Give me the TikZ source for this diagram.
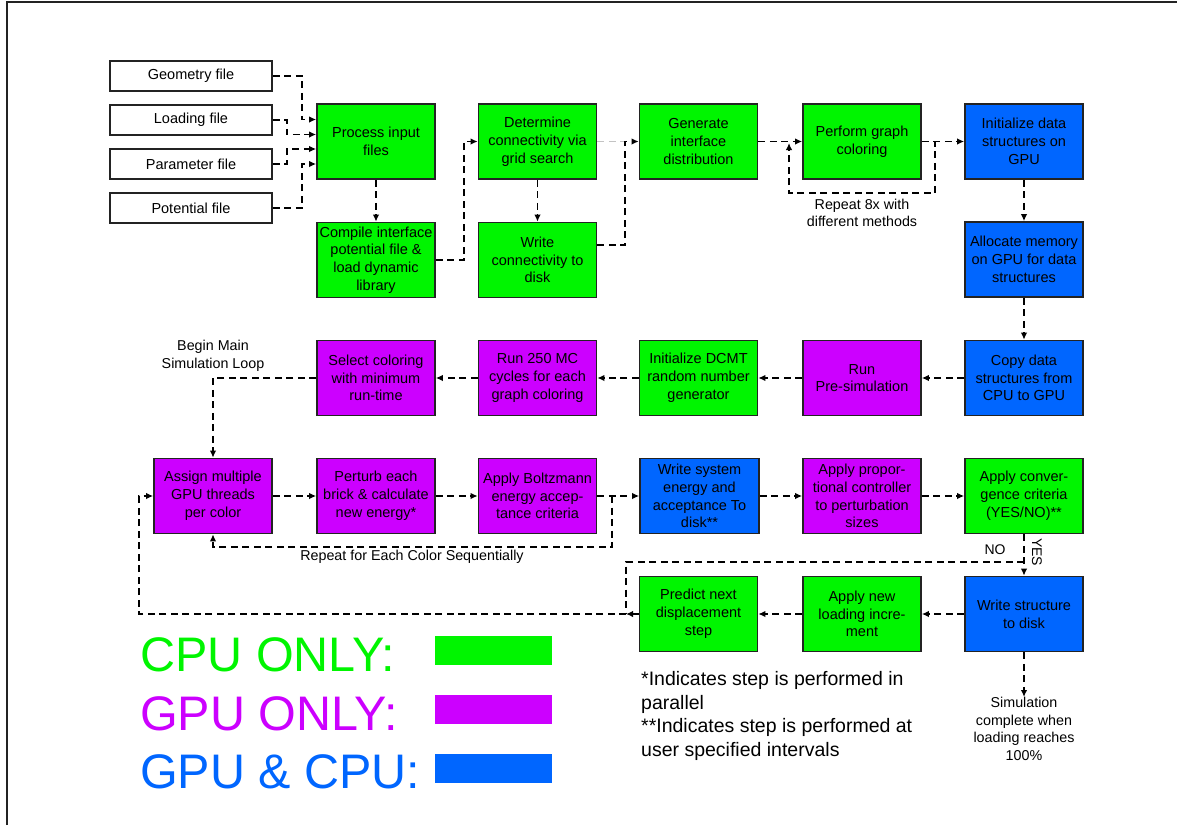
\documentclass[tikz,border=0pt]{standalone}
\usepackage{fontspec}
\setmainfont{Liberation Sans}
\usetikzlibrary{arrows.meta}
\definecolor{cgreen}{RGB}{0,245,0}
\definecolor{cpurple}{RGB}{204,0,255}
\definecolor{cblue}{RGB}{0,102,255}
\definecolor{edge}{RGB}{35,35,35}
\definecolor{lgray}{RGB}{195,195,195}
\tikzset{
  box/.style={draw=edge, line width=1.7pt, minimum width=118pt, minimum height=75pt, inner sep=1pt, align=center, font=\fontsize{14.5}{17.8}\selectfont},
  gbox/.style={box, fill=cgreen},
  pbox/.style={box, fill=cpurple},
  bbox/.style={box, fill=cblue},
  filebox/.style={draw=edge, line width=1.7pt, fill=white, minimum width=162pt, minimum height=30pt, inner sep=1pt, font=\fontsize{14.5}{17.8}\selectfont},
  dl/.style={draw=black, line width=1.6pt, dash pattern=on 7pt off 4.5pt},
  arr/.style={dl, -{Latex[length=7pt,width=6.5pt]}},
  lbl/.style={font=\fontsize{14.3}{17.7}\selectfont, align=center, inner sep=0pt},
  legend/.style={font=\fontsize{48.5}{50}\selectfont, inner sep=0pt, anchor=base west}
}
\begin{document}
\begin{tikzpicture}[x=1pt,y=-1pt]
\useasboundingbox (0,0) rectangle (1177,825);
% frame
\draw[edge, line width=1.2pt] (7,825) -- (7,2) -- (1177,2);
% file boxes
\node[filebox] (geo) at (191,76) {Geometry file};
\node[filebox] (load) at (191,120) {Loading file};
\node[filebox] (par) at (191,164) {Parameter file};
\node[filebox] (pot) at (191,208) {Potential file};
% row 1
\node[gbox] (proc) at (376,141.5) {Process input\\files};
\node[gbox] (comp) at (376,260) {Compile interface\\potential file \&\\load dynamic\\library};
\node[gbox] (det) at (537.5,141.5) {Determine\\connectivity via\\grid search};
\node[gbox] (wcon) at (537.5,260) {Write\\connectivity to\\disk};
\node[gbox] (gen) at (698.5,141.5) {Generate\\interface\\distribution};
\node[gbox] (pgc) at (862,141.5) {Perform graph\\coloring};
\node[bbox] (init) at (1024,141.5) {Initialize data\\structures on\\GPU};
\node[bbox] (alloc) at (1024,259.5) {Allocate memory\\on GPU for data\\structures};
% row 2
\node[bbox] (copy) at (1024,378) {Copy data\\structures from\\CPU to GPU};
\node[pbox] (pre) at (862,378) {Run\\Pre-simulation};
\node[gbox] (dcmt) at (698.5,378) {Initialize DCMT\\random number\\generator};
\node[pbox] (run) at (537.5,378) {Run 250 MC\\cycles for each\\graph coloring};
\node[pbox] (sel) at (376,378) {Select coloring\\with minimum\\run-time};
% row 3
\node[pbox] (asg) at (213,496) {Assign multiple\\GPU threads\\per color};
\node[pbox] (pert) at (376,496) {Perturb each\\brick \& calculate\\new energy*};
\node[pbox] (boltz) at (537.5,496) {Apply Boltzmann\\energy accep-\\tance criteria};
\node[bbox, minimum width=119pt] (wse) at (699.5,496) {Write system\\energy and\\acceptance To\\disk**};
\node[pbox] (prop) at (862,496) {Apply propor-\\tional controller\\to perturbation\\sizes};
\node[gbox] (conv) at (1024,496) {Apply conver-\\gence criteria\\(YES/NO)**};
% row 4
\node[bbox] (wst) at (1024,614) {Write structure\\to disk};
\node[gbox] (newl) at (862,614) {Apply new\\loading incre-\\ment};
\node[gbox] (pred) at (698.5,614) {Predict next\\displacement\\step};
% labels
\node[lbl] (rep8) at (862,213) {Repeat 8x with\\different methods};
\node[lbl] (bml) at (213,356) {Begin Main\\Simulation Loop};
\node[lbl] (rec) at (412,557) {Repeat for Each Color Sequentially};
\node[lbl, font=\fontsize{14}{16}\selectfont] (no) at (995,550) {NO};
\node[lbl, font=\fontsize{14}{16}\selectfont, rotate=-90] (yes) at (1037,552) {YES};
\node[lbl, anchor=north] (simc) at (1024,697) {Simulation\\complete when\\loading reaches\\100\%};
\node[anchor=north west, align=left, inner sep=0pt, font=\fontsize{19.5}{23.5}\selectfont] (notes) at (641,671.5) {*Indicates step is performed in\\parallel\\**Indicates step is performed at\\user specified intervals};
% legend
\node[legend, text=cgreen] (lcpu) at (140,671) {CPU ONLY:};
\node[legend, text=cpurple] (lgpu) at (140,730) {GPU ONLY:};
\node[legend, text=cblue] (lboth) at (140,788) {GPU \& CPU:};
\node[fill=cgreen, minimum width=117pt, minimum height=29pt, inner sep=0pt] (rcpu) at (493.5,650.5) {};
\node[fill=cpurple, minimum width=117pt, minimum height=29pt, inner sep=0pt] (rgpu) at (493.5,709.5) {};
\node[fill=cblue, minimum width=117pt, minimum height=29pt, inner sep=0pt] (rboth) at (493.5,768.5) {};
% coordinates
\coordinate (j1) at (625,141.5);
\coordinate (lb) at (612,496);
\coordinate (nb) at (1024,562);
\coordinate (m) at (626,614);
% input connectors
\draw[arr] (geo.east) -- (302,76) |- ([yshift=22pt]proc.west);
\draw[arr] (load.east) -- (287,120) |- ([yshift=7pt]proc.west);
\draw[arr] (par.east) -- (287,164) |- ([yshift=-7.5pt]proc.west);
\draw[arr] (pot.east) -- (302,208) |- ([yshift=-22.5pt]proc.west);
\draw[arr] (proc.south) -- (comp.north);
\draw[arr] (comp.east) -- (464,260) |- (det.west);
\draw[arr] (det.south) -- (wcon.north);
\draw[dl, draw=lgray] (det.east) -- (j1);
\draw[arr] ([yshift=15pt]wcon.east) -- (625,245) |- (gen.west);
\draw[arr] (gen.east) -- (pgc.west);
\draw[arr] (pgc.east) -- (935,141.5) -- (935,193) -- (789,193) -- (789,143);
\draw[arr] (pgc.east) -- (init.west);
\draw[arr] (init.south) -- (alloc.north);
\draw[arr] (alloc.south) -- (copy.north);
\draw[arr] (copy.west) -- (pre.east);
\draw[arr] (pre.west) -- (dcmt.east);
\draw[arr] (dcmt.west) -- (run.east);
\draw[arr] (run.west) -- (sel.east);
\draw[arr] (sel.west) -| (asg.north);
\draw[arr] (asg.east) -- (pert.west);
\draw[arr] (pert.east) -- (boltz.west);
\draw[arr] (boltz.east) -- (wse.west);
\draw[arr] (lb) -- (612,547) -| (asg.south);
\draw[arr] (wse.east) -- (prop.west);
\draw[arr] (prop.east) -- (conv.west);
\draw[arr] (conv.south) -- (wst.north);
\draw[dl] (nb) -| (m);
\draw[arr] (wst.west) -- (newl.east);
\draw[arr] (newl.west) -- (pred.east);
\draw[arr] (pred.west) -- (m);
\draw[arr] (m) -- (139,614) |- (asg.west);
\draw[arr] (wst.south) -- (simc.north);
\end{tikzpicture}
\end{document}
